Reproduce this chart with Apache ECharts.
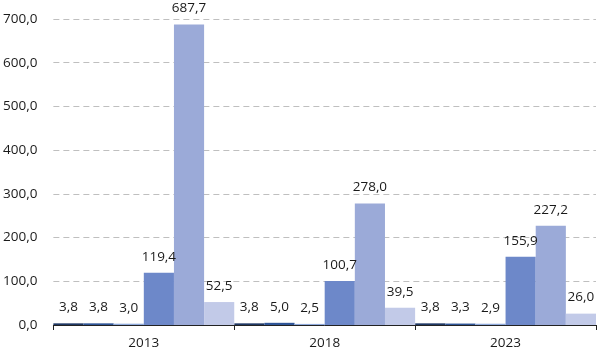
<!DOCTYPE html>
<html><head><meta charset="utf-8">
<script src="https://cdn.jsdelivr.net/npm/echarts@6/dist/echarts.min.js"></script>
<style>html,body{margin:0;padding:0;background:#fff}#c{width:598px;height:353px}</style>
</head><body><div id="c"></div>
<script>
const categories = ['2013', '2018', '2023'];
const s1 = [3.8, 3.8, 3.8];
const s2 = [3.8, 5.0, 3.3];
const s3 = [3.0, 2.5, 2.9];
const s4 = [119.4, 100.7, 155.9];
const s5 = [687.7, 278.0, 227.2];
const s6 = [52.5, 39.5, 26.0];
const colors = ['#1F3864', '#2F5597', '#8FAADC', '#6D88C9', '#9BAAD8', '#C2CAE8'];
const fmt = v => v.toFixed(1).replace('.', ',');
const font = "'Open Sans', sans-serif";
const chart = echarts.init(document.getElementById('c'));
const mk = (d, i) => ({
  type: 'bar', data: d, barGap: '0%', barCategoryGap: '0%',
  itemStyle: { color: colors[i] },
  label: { show: true, position: 'top', distance: 9, formatter: p => fmt(p.value), fontSize: 13.5, color: '#1a1a1a', fontFamily: font }
});
chart.setOption({
  animation: false,
  grid: { left: 53, right: 2, top: 19, bottom: 28 },
  xAxis: {
    type: 'category', data: categories,
    axisLine: { lineStyle: { color: '#222', width: 1 } },
    axisTick: { show: true, length: 5, lineStyle: { color: '#222' } },
    axisLabel: { fontSize: 13.5, color: '#1a1a1a', fontFamily: font, margin: 11 }
  },
  yAxis: {
    type: 'value', min: 0, max: 700, interval: 100,
    axisLine: { show: false }, axisTick: { show: false },
    axisLabel: { formatter: v => fmt(v), fontSize: 13.5, color: '#1a1a1a', fontFamily: font, margin: 16 },
    splitLine: { lineStyle: { color: '#BFBFBF', type: [6, 4], width: 1 } }
  },
  series: [mk(s1, 0), mk(s2, 1), mk(s3, 2), mk(s4, 3), mk(s5, 4), mk(s6, 5)]
});
</script></body></html>
